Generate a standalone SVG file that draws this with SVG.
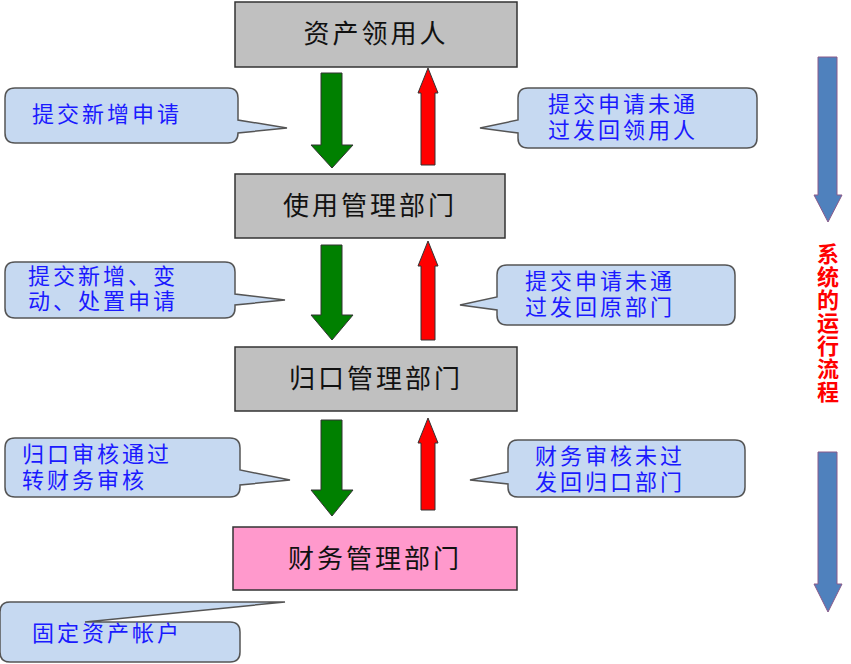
<svg xmlns="http://www.w3.org/2000/svg" width="851" height="664" viewBox="0 0 851 664">
<style>
.box{fill:#C0C0C0;stroke:#333;stroke-width:1.5}
.bt{font-family:"Liberation Sans","Noto Sans CJK SC",sans-serif;font-size:26px;fill:#111;text-anchor:middle;letter-spacing:3px}
.cb{fill:#C6D9F1;stroke:#555;stroke-width:1.5}
.ct{font-family:"Liberation Sans","Noto Sans CJK SC",sans-serif;font-size:22px;fill:#1a1aff;letter-spacing:3px}
.g{fill:#008000;stroke:#333;stroke-width:1}
.r{fill:#FF0000;stroke:#333;stroke-width:1}
.b{fill:#4F81BD;stroke:#8a5a8a;stroke-width:1}
</style>
<rect width="851" height="664" fill="#fff"/>
<g id="n1"><rect class="box" x="235" y="2" width="282" height="65"/><text class="bt" x="376" y="43">资产领用人</text></g>
<g id="n2"><rect class="box" x="235" y="174" width="270" height="64"/><text class="bt" x="370" y="215">使用管理部门</text></g>
<g id="n3"><rect class="box" x="235" y="347" width="282" height="64"/><text class="bt" x="376" y="388">归口管理部门</text></g>
<g id="n4"><rect x="233" y="527" width="284" height="63" fill="#FF99CC" stroke="#333" stroke-width="1.5"/><text class="bt" x="375" y="568">财务管理部门</text></g>
<g id="connectors">
<path class="g" d="M321,73h21v72h11l-21,23l-21,-23h10z"/>
<path class="r" d="M421,165v-72h-3l10,-25l10,25h-3v72z"/>
<path class="g" d="M321,245h21v70h11l-21,25l-21,-25h10z"/>
<path class="r" d="M421,340v-74h-3l10,-25l10,25h-3v74z"/>
<path class="g" d="M321,420h21v70h11l-21,26l-21,-26h10z"/>
<path class="r" d="M421,510v-67h-3l10,-25l10,25h-3v67z"/>
<path class="b" d="M818,57h19v138h5l-14,27l-14,-27h4z"/>
<path class="b" d="M818,452h19v132h5l-14,28l-14,-28h4z"/>
</g>
<text font-family="Liberation Sans,Noto Sans CJK SC,sans-serif" font-size="22" font-weight="bold" fill="#FF0000" text-anchor="middle"><tspan x="828" y="262">系</tspan><tspan x="828" y="285">统</tspan><tspan x="828" y="308">的</tspan><tspan x="828" y="331">运</tspan><tspan x="828" y="354">行</tspan><tspan x="828" y="377">流</tspan><tspan x="828" y="400">程</tspan></text>
<g id="c1"><path class="cb" d="M15,88h213q10,0 10,10v22l49,8l-49,5v0q0,10,-10,10h-213q-10,0,-10,-10v-35q0,-10,10,-10z"/><text class="ct" x="32" y="122">提交新增申请</text></g>
<g id="c2"><path class="cb" d="M528,88h219q10,0 10,10v40q0,10,-10,10h-219q-10,0,-10,-10v-5l-38,-5l38,-8v-22q0,-10,10,-10z"/><text class="ct" x="548" y="112">提交申请未通</text><text class="ct" x="548" y="138">过发回领用人</text></g>
<g id="c3"><path class="cb" d="M15,262h210q10,0 10,10v22l50,6l-50,5v3q0,10,-10,10h-210q-10,0,-10,-10v-36q0,-10,10,-10z"/><text class="ct" x="28" y="284">提交新增、变</text><text class="ct" x="28" y="309">动、处置申请</text></g>
<g id="c4"><path class="cb" d="M507,265h218q10,0 10,10v40q0,10,-10,10h-218q-10,0,-10,-10v-5l-37,-5l37,-8v-22q0,-10,10,-10z"/><text class="ct" x="525" y="289">提交申请未通</text><text class="ct" x="525" y="315">过发回原部门</text></g>
<g id="c5"><path class="cb" d="M15,438h215q10,0 10,10v22l50,10l-50,5v2q0,10,-10,10h-215q-10,0,-10,-10v-39q0,-10,10,-10z"/><text class="ct" x="22" y="462">归口审核通过</text><text class="ct" x="22" y="488">转财务审核</text></g>
<g id="c6"><path class="cb" d="M518,440h217q10,0 10,10v37q0,10,-10,10h-217q-10,0,-10,-10v-3l-38,-4l38,-8v-22q0,-10,10,-10z"/><text class="ct" x="535" y="464">财务审核未过</text><text class="ct" x="535" y="490">发回归口部门</text></g>
<g id="c7"><path class="cb" d="M15,602h25l245,0l-200,20h145q10,0 10,10v20q0,10,-10,10h-220q-10,0,-10,-10v-40q0,-10,10,-10z"/><text class="ct" x="32" y="641">固定资产帐户</text></g>
</svg>
